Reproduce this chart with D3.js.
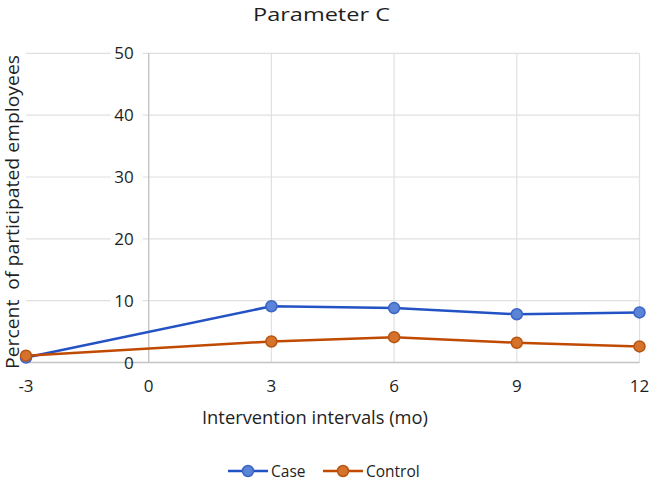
<!DOCTYPE html>
<html><head><meta charset="utf-8">
<script src="https://cdn.jsdelivr.net/npm/d3@7"></script>
<style>body{margin:0;background:#fff}svg{display:block}text{font-family:"Open Sans","Noto Sans",sans-serif;fill:#1e1e1e}</style>
</head><body>
<svg id="c" width="654" height="482"></svg>
<script>
const months = [-3, 3, 6, 9, 12];
const caseValues = [0.8, 9.1, 8.8, 7.8, 8.1];
const controlValues = [1.1, 3.4, 4.1, 3.2, 2.6];
const xTicks = [-3, 0, 3, 6, 9, 12];
const yTicks = [0, 10, 20, 30, 40, 50];
const seriesNames = ["Case", "Control"];

const svg = d3.select("#c");
const x = d3.scaleLinear().domain([-3, 12]).range([26, 639.5]);
const y = d3.scaleLinear().domain([0, 50]).range([362.5, 53.3]);

// horizontal gridlines
svg.append("g").selectAll("line").data(yTicks.slice(1)).join("line")
  .attr("x1", x(-3)).attr("x2", x(12)).attr("y1", d => y(d)).attr("y2", d => y(d))
  .attr("stroke", "#e0e0e0").attr("stroke-width", 1.2);
// vertical gridlines
svg.append("g").selectAll("line").data(xTicks.filter(d => d !== 0 && d !== -3)).join("line")
  .attr("x1", d => x(d)).attr("x2", d => x(d)).attr("y1", y(0)).attr("y2", y(50))
  .attr("stroke", "#e0e0e0").attr("stroke-width", 1.2);
// x axis line
svg.append("line").attr("x1", x(-3)).attr("x2", x(12)).attr("y1", y(0)).attr("y2", y(0))
  .attr("stroke", "#c4c4c4").attr("stroke-width", 1.4);
// y axis line at x=0
svg.append("line").attr("x1", x(0)).attr("x2", x(0)).attr("y1", y(0)).attr("y2", y(50))
  .attr("stroke", "#c4c4c4").attr("stroke-width", 1.4);

// y tick labels with white background
const yl = svg.append("g").selectAll("g").data(yTicks).join("g");
yl.append("rect").attr("x", x(0) - 38).attr("y", d => y(d) - 9).attr("width", 32).attr("height", 15).attr("fill", "#fff")
  .attr("opacity", d => d === 0 ? 0 : 1);
yl.append("text").attr("x", x(0) - 15).attr("y", d => y(d) + 6)
  .attr("text-anchor", "end").attr("font-size", 17).text(d => d);

// x tick labels
svg.append("g").selectAll("text").data(xTicks).join("text")
  .attr("x", d => x(d)).attr("y", 392).attr("text-anchor", "middle").attr("font-size", 17).text(d => d);

const colors = {
  Case: {line: "#2352c4", fill: "#5b84d6", stroke: "#3a64c6"},
  Control: {line: "#c04a00", fill: "#d5732c", stroke: "#b85412"}
};
const lineGen = d3.line().x(d => x(d[0])).y(d => y(d[1]));
[caseValues, controlValues].forEach((vals, i) => {
  const c = colors[seriesNames[i]];
  const pts = months.map((m, j) => [m, vals[j]]);
  svg.append("path").datum(pts).attr("d", lineGen).attr("fill", "none")
    .attr("stroke", c.line).attr("stroke-width", 2.5);
  svg.append("g").selectAll("circle").data(pts).join("circle")
    .attr("cx", d => x(d[0])).attr("cy", d => y(d[1])).attr("r", 5.5)
    .attr("fill", c.fill).attr("stroke", c.stroke).attr("stroke-width", 1.5);
});

// title
svg.append("text").attr("x", 321.5).attr("y", 21).attr("text-anchor", "middle").attr("font-size", 19)
  .attr("textLength", 137).attr("lengthAdjust", "spacingAndGlyphs").text("Parameter C");
// axis titles
svg.append("text").attr("x", 315).attr("y", 424).attr("text-anchor", "middle").attr("font-size", 17.5)
  .attr("textLength", 226).attr("lengthAdjust", "spacingAndGlyphs").text("Intervention intervals (mo)");
svg.append("text").attr("transform", "translate(19,212) rotate(-90)").attr("text-anchor", "middle")
  .attr("font-size", 18).attr("xml:space", "preserve")
  .attr("textLength", 314).attr("lengthAdjust", "spacingAndGlyphs").text("Percent  of participated employees");

// legend
const lg = svg.append("g");
const legendPos = [228, 323];
seriesNames.forEach((n, i) => {
  const c = colors[n], lx = legendPos[i];
  lg.append("line").attr("x1", lx).attr("x2", lx + 40).attr("y1", 471).attr("y2", 471).attr("stroke", c.line).attr("stroke-width", 2.5);
  lg.append("circle").attr("cx", lx + 20).attr("cy", 471).attr("r", 5.5).attr("fill", c.fill).attr("stroke", c.stroke).attr("stroke-width", 1.5);
  lg.append("text").attr("x", lx + 43).attr("y", 477).attr("font-size", 15.5).text(n);
});
</script>
</body></html>
